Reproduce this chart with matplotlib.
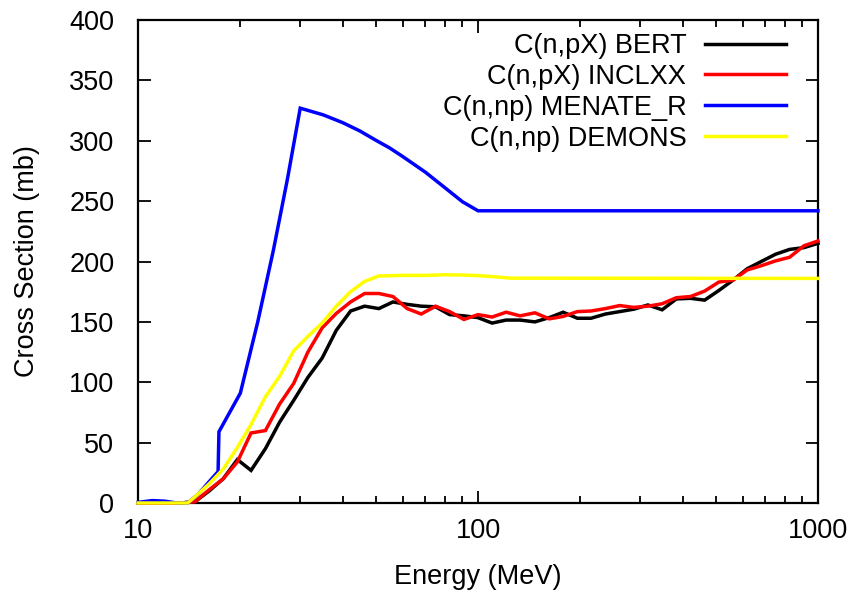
import matplotlib
matplotlib.use("Agg")
import matplotlib.pyplot as plt
from matplotlib.ticker import LogLocator, FixedLocator, NullFormatter, FixedFormatter

plt.rcParams['font.family'] = ['Liberation Sans', 'DejaVu Sans']

# energy grid shared by the two Geant4 models (MeV)
energy = [10.0, 11.0, 12.1, 13.3, 14.7, 16.2, 17.8, 19.6, 21.5, 23.7,
          26.1, 28.7, 31.6, 34.8, 38.3, 42.2, 46.4, 51.1, 56.2, 61.9,
          68.1, 75.0, 82.5, 90.9, 100, 110, 121, 133, 147, 162,
          178, 196, 215, 237, 261, 287, 316, 348, 383, 422,
          464, 511, 562, 619, 681, 750, 825, 909, 1000]

bert = [0, 0, 0, 0, 1, 10, 20, 36, 27, 45,
        67, 85, 104, 120, 143, 159, 163, 161, 166.5, 164.5,
        163, 162.5, 156, 155, 153.5, 149, 151.5, 151.5, 150, 153.5,
        158, 153, 153, 156.5, 158.5, 160.5, 164, 160, 169, 169.5,
        168, 176, 184.5, 194, 200, 206, 210, 211.5, 215]

inclxx = [0, 0, 0, 0, 1, 11, 20, 34, 58, 60,
          82, 99, 125, 145, 157, 166.5, 173.5, 173.5, 171, 161,
          156.5, 163, 158.5, 152, 156, 154, 158, 155, 157.5, 152.5,
          154.5, 158.5, 159, 161, 163.5, 162, 163, 165, 170, 171,
          175.5, 183, 184.5, 193, 196.5, 200.5, 203.5, 213, 217]

energy_menate = [10, 11, 12, 13, 14, 15, 16, 17.2, 17.3, 20, 22.5, 25, 27.5,
                 30, 35, 40, 45, 50, 55, 60, 70, 80, 90, 100, 1000]
menate = [0.5, 2, 1.5, 0, 0, 7, 16, 26, 59, 91, 150, 209, 268,
          327, 321.5, 315, 308, 300.5, 294, 287, 274, 261, 249.5, 242, 242]

energy_demons = [10, 14.0, 14.7, 16.2, 17.8, 19.6, 21.5, 23.7, 26.1, 28.7,
                 31.6, 34.8, 38.3, 42.2, 46.4, 51.1, 60, 70, 80, 90,
                 100, 110, 125, 1000]
demons = [0, 0, 5, 16, 28, 46, 65, 88, 105, 126,
          138, 149, 163, 175, 183.5, 188, 188.5, 188.5, 189, 188.8,
          188.3, 187.5, 186.2, 186]

y_ticks = [0, 50, 100, 150, 200, 250, 300, 350, 400]
x_ticks = [10, 100, 1000]

FS = 19.5
LW = 2.5

fig = plt.figure(figsize=(8.56, 5.91), dpi=100)
ax = fig.add_axes([138 / 856, 1 - 503 / 591, 680 / 856, 483 / 591])

series = [
    (energy, bert, "black", "C(n,pX) BERT"),
    (energy, inclxx, "#ff0000", "C(n,pX) INCLXX"),
    (energy_menate, menate, "#0000ff", "C(n,np) MENATE_R"),
    (energy_demons, demons, "#ffff00", "C(n,np) DEMONS"),
]
for xs, ys, col, lab in series:
    ax.plot(xs, ys, color=col, lw=LW, label=lab, zorder=3, clip_on=False,
            solid_joinstyle="miter")

ax.set_xscale("log")
ax.set_xlim(10, 1000)
ax.set_ylim(0, 400)

ax.xaxis.set_major_locator(FixedLocator(x_ticks))
ax.xaxis.set_major_formatter(FixedFormatter([str(t) for t in x_ticks]))
ax.xaxis.set_minor_locator(LogLocator(base=10, subs=range(2, 10)))
ax.xaxis.set_minor_formatter(NullFormatter())
ax.set_yticks(y_ticks)

ax.tick_params(which="both", direction="in", top=True, right=True,
               width=1.3, labelsize=FS, color="black")
ax.tick_params(which="major", length=9)
ax.tick_params(which="minor", length=5)
ax.tick_params(axis="y", pad=17)
ax.tick_params(axis="x", pad=11)

for sp in ax.spines.values():
    sp.set_linewidth(1.6)

ax.set_xlabel("Energy (MeV)", fontsize=FS, labelpad=14)
ax.set_ylabel("Cross Section (mb)", fontsize=FS, labelpad=21)

leg = ax.legend(loc="upper right", bbox_to_anchor=(786 / 856, 1 - 33 / 591),
                bbox_transform=fig.transFigure, frameon=False,
                markerfirst=False, fontsize=FS, handlelength=3.0,
                handletextpad=0.68, labelspacing=0.18, borderpad=0,
                borderaxespad=0)

fig.savefig("out.png", dpi=100)
